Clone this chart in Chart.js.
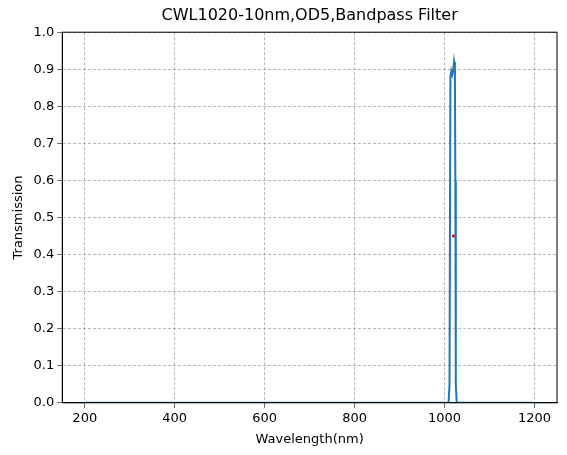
<!DOCTYPE html>
<html><head><script src="https://cdn.jsdelivr.net/npm/chart.js@4"></script>
<style>body{margin:0;background:#fff}#c{width:567px;height:455px}</style></head>
<body><div id="c"><canvas id="chart"></canvas></div>
<script>
const wavelengths = [200, 1000, 1009, 1011, 1013, 1015, 1017, 1019, 1021, 1023, 1024, 1025, 1027, 1100, 1200];
const transmission = [0, 0, 0, 0.05, 0.88, 0.895, 0.885, 0.895, 0.92, 0.9, 0.6, 0.05, 0, 0, 0];
const cwl = [1020];
const cwlValue = [0.45];
const xTicks = [200, 400, 600, 800, 1000, 1200];

const font = {family: 'DejaVu Sans', size: 13};
new Chart(document.getElementById('chart'), {
  type: 'scatter',
  data: {datasets: [
    {data: wavelengths.map((x, i) => ({x, y: transmission[i]})), showLine: true, borderColor: '#1f77b4', borderWidth: 2, pointRadius: 0, tension: 0},
    {data: cwl.map((x, i) => ({x, y: cwlValue[i]})), backgroundColor: 'red', borderColor: 'red', pointRadius: 1.5, pointStyle: 'rect'}
  ]},
  options: {
    responsive: true, maintainAspectRatio: false, animation: false,
    layout: {padding: {left: 7, right: 10, top: 0, bottom: 4}},
    plugins: {legend: {display: false}, tooltip: {enabled: false},
      title: {display: true, fullSize: false, text: 'CWL1020-10nm,OD5,Bandpass Filter', color: '#000', font: {family: 'DejaVu Sans', size: 16, weight: 'normal'}, padding: {top: 6, bottom: 7}}},
    scales: {
      x: {type: 'linear', min: 150, max: 1250,
        afterBuildTicks: a => { a.ticks = xTicks.map(v => ({value: v})); },
        title: {display: true, text: 'Wavelength(nm)', color: '#000', font, padding: {top: 2}},
        ticks: {color: '#000', font, callback: v => String(v)},
        grid: {color: '#888', lineWidth: 0.6, tickColor: '#000', tickLength: 5},
        border: {color: '#000', dash: [3, 2]}},
      y: {min: 0, max: 1,
        ticks: {stepSize: 0.1, color: '#000', font, callback: v => v.toFixed(1)},
        title: {display: true, text: 'Transmission', color: '#000', font},
        grid: {color: '#888', lineWidth: 0.6, tickColor: '#000', tickLength: 5},
        border: {color: '#000', dash: [3, 2]}}
    }
  },
  plugins: [{id: 'frame', afterDraw(c) {
    const a = c.chartArea, x = c.ctx;
    x.save(); x.strokeStyle = '#000'; x.lineWidth = 1; x.setLineDash([]);
    x.strokeRect(a.left, a.top, a.right - a.left, a.bottom - a.top); x.restore();
  }}]
});
</script></body></html>
